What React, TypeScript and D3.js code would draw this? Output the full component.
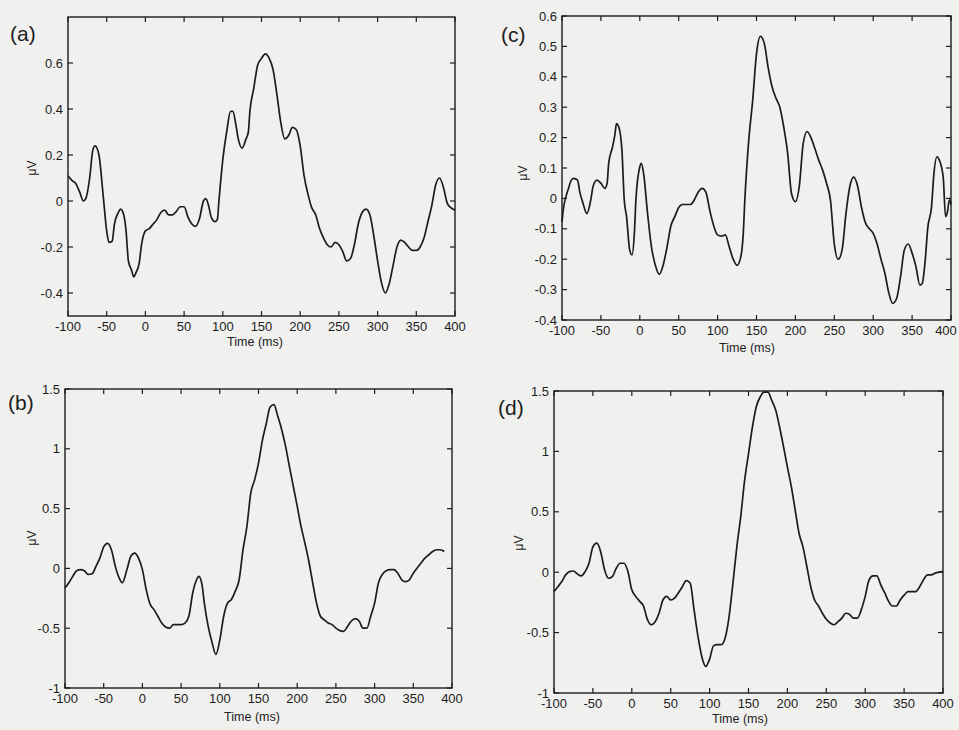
import React from "react";
import * as d3 from "d3";

// ERP waveforms (time in ms, amplitude in µV)
const timesA = [-100, -95, -90, -85, -80, -77, -72, -68, -65, -60, -55, -50, -47, -43, -40, -35, -32, -28, -25, -22, -18, -15, -12, -8, -5, 0, 5, 10, 15, 20, 25, 30, 35, 40, 45, 50, 55, 60, 65, 70, 75, 78, 82, 85, 90, 93, 95, 100, 105, 110, 113, 117, 120, 125, 130, 133, 135, 140, 145, 150, 155, 160, 165, 170, 175, 180, 185, 190, 195, 200, 205, 210, 215, 220, 225, 230, 235, 240, 245, 250, 255, 260, 265, 270, 275, 280, 285, 290, 295, 300, 305, 310, 315, 320, 325, 330, 335, 340, 345, 350, 355, 360, 365, 370, 375, 380, 385, 390, 395, 400];
const erpA = [0.11, 0.09, 0.076, 0.04, 0.0, 0.01, 0.1, 0.22, 0.24, 0.2, 0.04, -0.13, -0.18, -0.175, -0.1, -0.05, -0.035, -0.06, -0.13, -0.26, -0.3, -0.33, -0.31, -0.27, -0.19, -0.13, -0.12, -0.1, -0.08, -0.05, -0.04, -0.06, -0.06, -0.045, -0.025, -0.025, -0.07, -0.1, -0.11, -0.075, 0.0, 0.01, -0.025, -0.07, -0.09, -0.08, 0.0, 0.18, 0.3, 0.39, 0.39, 0.33, 0.27, 0.23, 0.27, 0.3, 0.39, 0.49, 0.59, 0.62, 0.64, 0.62, 0.57, 0.46, 0.34, 0.27, 0.285, 0.32, 0.31, 0.24, 0.11, 0.03, -0.03, -0.06, -0.12, -0.16, -0.19, -0.2, -0.18, -0.19, -0.22, -0.26, -0.25, -0.19, -0.1, -0.05, -0.035, -0.06, -0.15, -0.26, -0.355, -0.4, -0.36, -0.28, -0.2, -0.17, -0.18, -0.2, -0.215, -0.215, -0.2, -0.16, -0.09, -0.02, 0.07, 0.1, 0.06, -0.01, -0.03, -0.04];

const timesB = [-100, -95, -90, -85, -80, -75, -70, -65, -60, -55, -50, -45, -40, -35, -30, -26, -20, -15, -10, -5, 0, 5, 10, 15, 20, 25, 30, 35, 40, 45, 50, 55, 60, 65, 70, 73, 77, 80, 85, 90, 95, 100, 105, 110, 115, 120, 125, 130, 135, 140, 145, 150, 155, 160, 165, 170, 175, 180, 185, 190, 195, 200, 205, 210, 215, 220, 225, 230, 235, 240, 245, 250, 255, 260, 265, 270, 275, 280, 285, 290, 295, 300, 305, 310, 315, 320, 325, 330, 335, 340, 345, 350, 355, 360, 365, 370, 375, 380, 385, 390];
const erpB = [-0.164, -0.12, -0.067, -0.02, -0.01, -0.02, -0.05, -0.045, 0.017, 0.086, 0.18, 0.21, 0.156, 0.017, -0.08, -0.12, -0.01, 0.1, 0.128, 0.086, -0.01, -0.18, -0.3, -0.345, -0.4, -0.457, -0.49, -0.5, -0.47, -0.47, -0.47, -0.457, -0.4, -0.206, -0.095, -0.067, -0.136, -0.29, -0.485, -0.62, -0.72, -0.6, -0.4, -0.29, -0.26, -0.19, -0.095, 0.156, 0.35, 0.63, 0.74, 0.88, 1.07, 1.21, 1.35, 1.37, 1.27, 1.16, 1.02, 0.85, 0.685, 0.52, 0.35, 0.21, 0.06, -0.12, -0.29, -0.4, -0.43, -0.457, -0.47, -0.5, -0.52, -0.526, -0.485, -0.44, -0.42, -0.44, -0.5, -0.5, -0.4, -0.29, -0.12, -0.05, -0.02, -0.01, -0.01, -0.04, -0.095, -0.11, -0.095, -0.04, 0.003, 0.045, 0.086, 0.114, 0.142, 0.156, 0.156, 0.142];

const timesC = [-100, -98, -95, -92, -88, -85, -80, -77, -73, -68, -63, -60, -55, -50, -45, -42, -40, -35, -32, -30, -27, -23, -20, -17, -13, -10, -7, -5, 0, 2, 5, 10, 15, 20, 25, 30, 35, 40, 45, 50, 55, 60, 65, 70, 75, 80, 85, 90, 95, 100, 105, 110, 115, 120, 125, 130, 133, 135, 140, 145, 150, 155, 160, 165, 170, 175, 180, 185, 190, 195, 200, 205, 210, 215, 220, 225, 230, 235, 240, 245, 250, 255, 260, 265, 270, 275, 280, 285, 290, 295, 300, 305, 310, 315, 320, 325, 330, 335, 340, 345, 350, 355, 360, 363, 367, 370, 375, 378, 382, 385, 390, 393, 395, 398, 400];
const erpC = [-0.077, -0.03, 0.005, 0.03, 0.06, 0.066, 0.06, 0.02, -0.016, -0.05, -0.005, 0.04, 0.06, 0.05, 0.033, 0.05, 0.115, 0.17, 0.21, 0.246, 0.235, 0.16, -0.005, -0.06, -0.17, -0.186, -0.115, -0.005, 0.104, 0.115, 0.08, -0.05, -0.16, -0.22, -0.25, -0.22, -0.16, -0.09, -0.06, -0.03, -0.02, -0.02, -0.02, -0.005, 0.02, 0.033, 0.02, -0.04, -0.09, -0.12, -0.124, -0.12, -0.16, -0.2, -0.22, -0.19, -0.115, -0.005, 0.19, 0.32, 0.476, 0.533, 0.51, 0.43, 0.367, 0.33, 0.3, 0.235, 0.15, 0.016, -0.011, 0.04, 0.18, 0.22, 0.2, 0.164, 0.126, 0.093, 0.05, -0.005, -0.15, -0.2, -0.17, -0.05, 0.04, 0.07, 0.04, -0.03, -0.08, -0.1, -0.115, -0.15, -0.2, -0.246, -0.31, -0.345, -0.33, -0.26, -0.17, -0.15, -0.18, -0.225, -0.285, -0.28, -0.2, -0.1, -0.027, 0.08, 0.137, 0.126, 0.07, -0.06, -0.05, -0.005, -0.02];

const timesD = [-100, -95, -90, -85, -80, -75, -70, -65, -60, -55, -50, -45, -40, -35, -30, -25, -20, -15, -10, -5, 0, 5, 10, 15, 20, 25, 30, 35, 40, 45, 50, 55, 60, 65, 70, 75, 80, 85, 90, 95, 100, 105, 110, 115, 120, 125, 130, 135, 140, 145, 150, 155, 160, 165, 170, 175, 180, 185, 190, 195, 200, 205, 210, 215, 220, 225, 230, 235, 240, 245, 250, 255, 260, 265, 270, 275, 280, 285, 290, 295, 300, 305, 310, 315, 320, 325, 330, 335, 340, 345, 350, 355, 360, 365, 370, 375, 380, 385, 390, 395, 400];
const erpD = [-0.16, -0.12, -0.077, -0.022, 0.005, 0.01, -0.014, -0.03, 0.005, 0.074, 0.21, 0.24, 0.17, 0.02, -0.05, -0.036, 0.033, 0.074, 0.074, 0.005, -0.146, -0.2, -0.24, -0.28, -0.39, -0.435, -0.41, -0.34, -0.23, -0.2, -0.23, -0.215, -0.17, -0.12, -0.07, -0.09, -0.31, -0.53, -0.7, -0.78, -0.72, -0.61, -0.6, -0.6, -0.545, -0.37, -0.09, 0.21, 0.46, 0.76, 0.98, 1.2, 1.37, 1.45, 1.49, 1.49, 1.42, 1.34, 1.2, 1.04, 0.87, 0.71, 0.515, 0.32, 0.21, 0.047, -0.12, -0.23, -0.28, -0.34, -0.39, -0.42, -0.435, -0.41, -0.38, -0.34, -0.35, -0.38, -0.38, -0.31, -0.2, -0.063, -0.03, -0.03, -0.105, -0.17, -0.24, -0.28, -0.28, -0.23, -0.19, -0.16, -0.16, -0.16, -0.12, -0.063, -0.022, -0.022, -0.008, 0.0, 0.005];

const xTicks = [-100, -50, 0, 50, 100, 150, 200, 250, 300, 350, 400];
const yTicksA = [-0.4, -0.2, 0, 0.2, 0.4, 0.6];
const yTicksC = [-0.4, -0.3, -0.2, -0.1, 0, 0.1, 0.2, 0.3, 0.4, 0.5, 0.6];
const yTicksBD = [-1, -0.5, 0, 0.5, 1, 1.5];

const FONT = "'Liberation Sans', Arial, sans-serif";
const INK = "#1c1c1c";
const PAGE_W = 959;

type Box = { left: number; right: number; top: number; bottom: number };

function Panel({ letter, box, yDomain, yTicks, times, values, labelPos, ylabPos, xlabPos }: {
  letter: string; box: Box; yDomain: [number, number]; yTicks: number[];
  times: number[]; values: number[];
  labelPos: [number, number]; ylabPos: [number, number]; xlabPos: [number, number];
}) {
  const x = d3.scaleLinear().domain([-100, 400]).range([box.left, box.right]);
  const y = d3.scaleLinear().domain(yDomain).range([box.bottom, box.top]);
  const pts = times.map((t, i) => [t, values[i]] as [number, number]);
  const line = d3.line<[number, number]>()
    .x(d => x(d[0]))
    .y(d => y(d[1]))
    .curve(d3.curveMonotoneX);
  const tl = 5;

  return (
    <g>
      <rect x={box.left} y={box.top} width={box.right - box.left} height={box.bottom - box.top}
        fill="none" stroke={INK} strokeWidth={1.4} />
      {xTicks.map(t => (
        <g key={"x" + t}>
          <line x1={x(t)} x2={x(t)} y1={box.bottom} y2={box.bottom - tl} stroke={INK} strokeWidth={1.2} />
          <line x1={x(t)} x2={x(t)} y1={box.top} y2={box.top + tl} stroke={INK} strokeWidth={1.2} />
          {/* keep the last label inside the page, as in the scan */}
          <text x={Math.min(x(t), PAGE_W - 13)} y={box.bottom + 15} textAnchor="middle" fontSize={13}
            fontFamily={FONT} fill={INK}>{t}</text>
        </g>
      ))}
      {yTicks.map(t => (
        <g key={"y" + t}>
          <line x1={box.left} x2={box.left + tl} y1={y(t)} y2={y(t)} stroke={INK} strokeWidth={1.2} />
          <line x1={box.right} x2={box.right - tl} y1={y(t)} y2={y(t)} stroke={INK} strokeWidth={1.2} />
          <text x={box.left - 5} y={y(t)} dy="0.35em" textAnchor="end" fontSize={13} fontFamily={FONT} fill={INK}>{t}</text>
        </g>
      ))}
      <path d={line(pts) ?? ""} fill="none" stroke={INK} strokeWidth={1.7} strokeLinejoin="round" />
      <text x={labelPos[0]} y={labelPos[1]} fontSize={21} fontFamily={FONT} fill={INK}>{letter}</text>
      <text transform={`translate(${ylabPos[0]},${ylabPos[1]}) rotate(-90)`} textAnchor="middle" dy="0.35em"
        fontSize={12} fontFamily={FONT} fill={INK}>μV</text>
      <text x={xlabPos[0]} y={xlabPos[1]} textAnchor="middle" fontSize={12.5} fontFamily={FONT} fill={INK}>Time (ms)</text>
    </g>
  );
}

export default function App() {
  return (
    <svg width={959} height={730} style={{ position: "fixed", left: 0, top: 0, display: "block" }}>
      <rect width={959} height={730} fill="#f0f0ee" />
      <Panel letter="(a)" box={{ left: 68, right: 455, top: 17, bottom: 316 }} yDomain={[-0.5, 0.8]} yTicks={yTicksA}
        times={timesA} values={erpA} labelPos={[10, 41]} ylabPos={[32, 168]} xlabPos={[255, 346]} />
      <Panel letter="(c)" box={{ left: 562, right: 951, top: 16, bottom: 320 }} yDomain={[-0.4, 0.6]} yTicks={yTicksC}
        times={timesC} values={erpC} labelPos={[501, 42]} ylabPos={[523, 173]} xlabPos={[747, 352]} />
      <Panel letter="(b)" box={{ left: 65, right: 452, top: 389, bottom: 688 }} yDomain={[-1, 1.5]} yTicks={yTicksBD}
        times={timesB} values={erpB} labelPos={[8, 410]} ylabPos={[32, 538]} xlabPos={[252, 721]} />
      <Panel letter="(d)" box={{ left: 554, right: 943, top: 391, bottom: 693 }} yDomain={[-1, 1.5]} yTicks={yTicksBD}
        times={timesD} values={erpD} labelPos={[498, 415]} ylabPos={[519, 543]} xlabPos={[740, 723]} />
    </svg>
  );
}
